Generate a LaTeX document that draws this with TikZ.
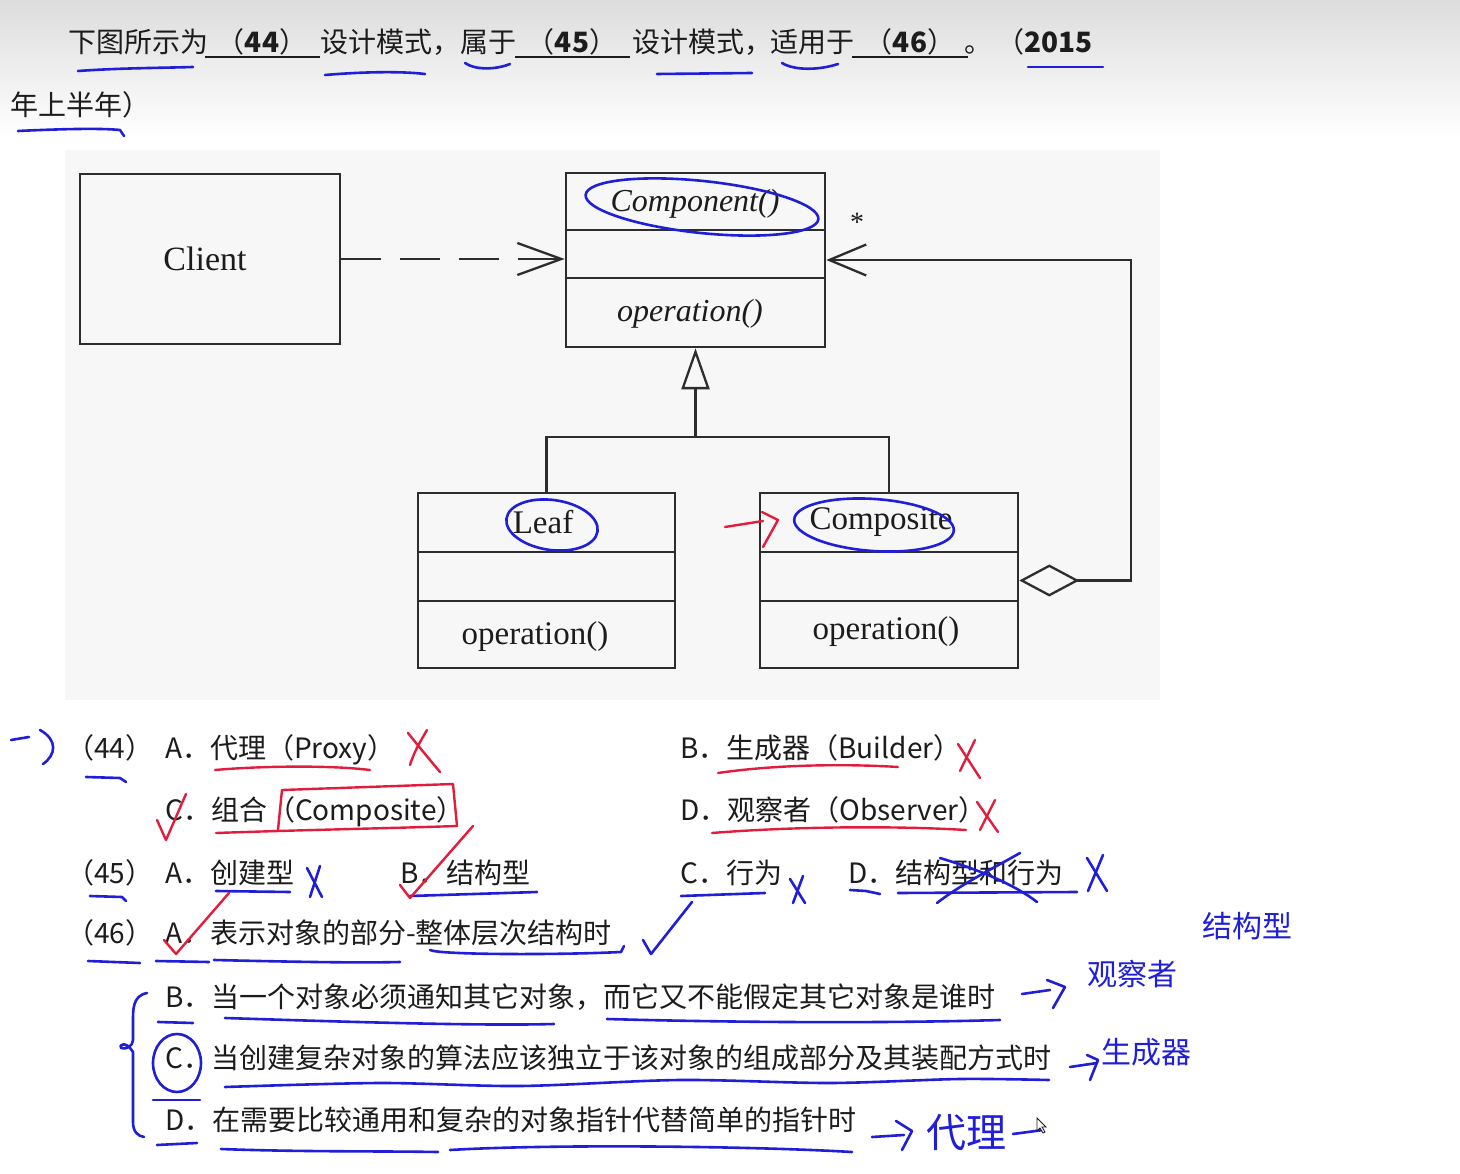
\documentclass[tikz,border=0pt]{standalone}
\usepackage{fontspec}
\setmainfont{Noto Sans CJK SC}
\newfontfamily\diagfont{Liberation Serif}
\usetikzlibrary{arrows.meta,calc}
\definecolor{penblue}{RGB}{32,30,215}
\definecolor{penred}{RGB}{225,28,60}
\definecolor{ink}{RGB}{28,28,28}
\definecolor{boxline}{RGB}{45,45,45}
\definecolor{diagbg}{RGB}{247,247,247}
\begin{document}
\begin{tikzpicture}[x=1pt,y=-1pt,
  txt/.style={anchor=base west, text=ink, font=\fontsize{28}{30}\selectfont, inner sep=0pt},
  hw/.style={text=penblue, font=\fontsize{30}{32}\selectfont, inner sep=0pt},
  cls/.style={draw=boxline, line width=2.6pt, inner sep=0pt},
  divline/.style={draw=boxline, line width=2.4pt},
  conn/.style={draw=boxline, line width=2.3pt},
  dtxt/.style={text=ink, inner sep=0pt, font=\diagfont\fontsize{33}{35}\selectfont},
  ditxt/.style={text=ink, inner sep=0pt, font=\diagfont\itshape\fontsize{32}{34}\selectfont},
  bluestroke/.style={draw=penblue, line width=2.6pt, line cap=round, line join=round},
  redstroke/.style={draw=penred, line width=2.4pt, line cap=round, line join=round},
  blank/.style={draw=ink, line width=2pt}]
\useasboundingbox (0,0) rectangle (1460,1174);
\fill[white] (0,0) rectangle (1460,1174);
\shade[top color=gray!27, bottom color=white] (0,0) rectangle (1460,138);
\fill[diagbg] (65,150) rectangle (1160,700);

% ---------- header ----------
\node[txt] (h1) at (68,53) {下图所示为};
\node[txt, anchor=base] (h2) at (262,53) {（\textbf{44}）};
\node[txt] (h3) at (320,53) {设计模式，};
\node[txt] (h4) at (460,53) {属于};
\node[txt, anchor=base] (h5) at (572,53) {（\textbf{45}）};
\node[txt] (h6) at (632,53) {设计模式，};
\node[txt] (h7) at (770,53) {适用于};
\node[txt, anchor=base] (h8) at (910,53) {（\textbf{46}）};
\node[txt] (h9) at (964,53) {。};
\node[txt] (h10) at (996,53) {（\textbf{2015}};
\node[txt] (h11) at (10,116) {年上半年）};
\draw[blank] (205,57) -- (320,57);
\draw[blank] (515,57) -- (630,57);
\draw[blank] (852,57) -- (968,57);

% ---------- UML diagram ----------
\node[cls, minimum width=260, minimum height=170] (client) at (210,259) {};
\node[dtxt, font=\diagfont\fontsize{34}{36}\selectfont] (clientlbl) at (205,259) {Client};

\node[cls, minimum width=259, minimum height=174] (comp) at (695.5,260) {};
\draw[divline] (comp.west |- 0,230) -- (comp.east |- 0,230);
\draw[divline] (comp.west |- 0,278) -- (comp.east |- 0,278);
\node[ditxt] (compname) at (695,204) {Component()};
\node[ditxt] (compop) at (690,314) {operation()};

\node[cls, minimum width=257, minimum height=175] (leaf) at (546.5,580.5) {};
\draw[divline] (leaf.west |- 0,552) -- (leaf.east |- 0,552);
\draw[divline] (leaf.west |- 0,601) -- (leaf.east |- 0,601);
\node[dtxt] (leafname) at (543,522) {Leaf};
\node[dtxt] (leafop) at (535,637) {operation()};

\node[cls, minimum width=258, minimum height=175] (compo) at (889,580.5) {};
\draw[divline] (compo.west |- 0,552) -- (compo.east |- 0,552);
\draw[divline] (compo.west |- 0,601) -- (compo.east |- 0,601);
\node[dtxt] (componame) at (881,522) {Composite};
\node[dtxt] (compoop) at (886,632) {operation()};

\node[text=ink, inner sep=0pt, font=\diagfont\fontsize{28}{30}\selectfont] (star) at (857,222) {*};

\draw[conn, dash pattern=on 40pt off 19pt, -{Straight Barb[length=44pt,width=32pt]}]
  (client.east) -- (client.east -| comp.west);
\coordinate (junc) at (695.5,437);
\draw[conn, -{Triangle[open,length=41pt,width=28pt]}] (junc) -- (comp.south);
\draw[conn] (leaf.north) |- (junc) -| (compo.north);
\coordinate (rc) at (1131,260);
\draw[conn, {Diamond[open,length=60pt,width=32pt]}-{Straight Barb[length=37pt,width=31pt]}]
  (compo.east) -| (rc) -- (comp.east);

% annotations on diagram
\draw[bluestroke, rotate around={-6:(702,207)}] (702,207) ellipse [x radius=117, y radius=26];
\draw[bluestroke, rotate around={-8:(552,525)}] (552,525) ellipse [x radius=46, y radius=25];
\draw[bluestroke, rotate around={-4:(874,525)}] (874,525) ellipse [x radius=80, y radius=26];
\draw[redstroke] (725,527) -- (763,521);
\draw[redstroke] (762,512) -- (778,520) -- (763,547);

% ---------- options ----------
\node[txt] (q44) at (66,758) {（44）};
\node[txt] (q44a) at (165,758) {A．代理（Proxy）};
\node[txt] (q44b) at (680,758) {B．生成器（Builder）};
\node[txt] (q44c) at (165,820) {C．组合（Composite）};
\node[txt] (q44d) at (680,820) {D．观察者（Observer）};
\node[txt] (q45) at (66,883) {（45）};
\node[txt] (q45a) at (165,883) {A．创建型};
\node[txt] (q45b) at (400,883) {B．结构型};
\node[txt] (q45c) at (680,883) {C．行为};
\node[txt] (q45d) at (848,883) {D．结构型和行为};
\node[txt] (q46) at (66,943) {（46）};
\node[txt] (q46a) at (165,943) {A．表示对象的部分-整体层次结构时};
\node[txt] (q46b) at (165,1007) {B．当一个对象必须通知其它对象，而它又不能假定其它对象是谁时};
\node[txt] (q46c) at (165,1068) {C．当创建复杂对象的算法应该独立于该对象的组成部分及其装配方式时};
\node[txt] (q46d) at (165,1130) {D．在需要比较通用和复杂的对象指针代替简单的指针时};

% ---------- blue pen ----------
% header underlines
\draw[bluestroke] (78,71) .. controls (120,68) and (160,68) .. (193,67);
\draw[bluestroke] (325,75) .. controls (360,72) and (400,71) .. (425,74);
\draw[bluestroke] (465,63) .. controls (475,70) and (495,70) .. (510,64);
\draw[bluestroke] (657,74) -- (752,73);
\draw[bluestroke] (782,63) .. controls (795,71) and (820,70) .. (838,64);
\draw[bluestroke] (1028,67) -- (1103,67);
\draw[bluestroke] (18,131) .. controls (60,129) and (100,128) .. (120,130) -- (124,136);
% row 44
\draw[bluestroke] (11,740) -- (29,737);
\draw[bluestroke] (40,730) .. controls (58,740) and (56,755) .. (43,764);
\draw[bluestroke] (86,777) -- (120,778) -- (126,782);
% row 45
\draw[bluestroke] (90,896) -- (122,897) -- (126,901);
\draw[bluestroke] (216,891) -- (290,892);
\draw[bluestroke] (307,868) -- (322,897);
\draw[bluestroke] (320,866) -- (310,897);
\draw[bluestroke] (410,896) -- (537,892);
\draw[bluestroke] (681,896) -- (765,893);
\draw[bluestroke] (790,879) -- (805,903);
\draw[bluestroke] (803,876) -- (793,903);
\draw[bluestroke] (850,890) -- (866,891) -- (880,894);
\draw[bluestroke] (898,893) -- (1077,892);
\draw[bluestroke] (940,858) .. controls (980,870) and (1015,885) .. (1037,902);
\draw[bluestroke] (1020,853) .. controls (990,870) and (960,885) .. (937,903);
\draw[bluestroke] (1087,858) -- (1107,891);
\draw[bluestroke] (1103,855) -- (1088,891);
% row 46
\draw[bluestroke] (88,961) -- (140,963);
\draw[bluestroke] (156,961) -- (209,962);
\draw[bluestroke] (214,960) .. controls (300,962) and (360,963) .. (400,962);
\draw[bluestroke] (430,950) .. controls (440,955) and (560,955) .. (621,952) -- (624,946);
\draw[bluestroke] (643,940) -- (651,954) -- (692,902);
\draw[bluestroke] (158,1022) -- (193,1023);
\draw[bluestroke] (225,1018) .. controls (350,1022) and (480,1026) .. (554,1024);
\draw[bluestroke] (607,1019) .. controls (750,1023) and (900,1023) .. (1000,1020);
\draw[bluestroke] (177,1063) ellipse [x radius=24, y radius=29];
\draw[bluestroke] (153,1100) -- (200,1100);
\draw[bluestroke] plot[smooth] coordinates {(225,1087) (380,1083) (520,1086) (680,1080) (830,1083) (960,1079) (1049,1080)};
\draw[bluestroke] (157,1145) -- (197,1143);
\draw[bluestroke] (221,1149) .. controls (300,1152) and (380,1151) .. (438,1152);
\draw[bluestroke] (450,1150) .. controls (550,1144) and (750,1146) .. (852,1152);
% brace
\draw[bluestroke] (147,993) .. controls (132,996) and (133,1010) .. (133,1025)
  -- (133,1040) .. controls (133,1046) and (126,1050) .. (121,1048)
  .. controls (118,1045) and (126,1040) .. (133,1052)
  -- (133,1122) .. controls (133,1132) and (138,1136) .. (144,1137);
% arrows and handwritten answers
\draw[bluestroke] (1022,994) -- (1050,990);
\draw[bluestroke] (1047,980) -- (1065,987) -- (1053,1008);
\draw[bluestroke] (1070,1067) -- (1097,1063);
\draw[bluestroke] (1087,1055) -- (1098,1060) -- (1090,1080);
\draw[bluestroke] (872,1137) -- (904,1135);
\draw[bluestroke] (896,1121) -- (912,1131) -- (902,1150);
\draw[bluestroke] (1013,1134) -- (1043,1130);
\node[hw] (hwjg) at (1247,926) {结构型};
\node[hw] (hwgc) at (1132,974) {观察者};
\node[hw] (hwsc) at (1146,1052) {生成器};
\node[hw, font=\fontsize{40}{42}\selectfont] (hwdl) at (966,1133) {代理};
\draw[draw=ink, fill=white, line width=0.8pt] (1037,1118) -- (1037,1131) -- (1040,1128) -- (1043,1133) -- (1045,1132) -- (1042,1127) -- (1046,1127) -- cycle;

% ---------- red pen ----------
\draw[redstroke] (215,770) .. controls (260,766) and (330,765) .. (370,770);
\draw[redstroke] (408,733) .. controls (420,748) and (430,760) .. (440,772);
\draw[redstroke] (427,730) .. controls (420,742) and (414,752) .. (410,765);
\draw[redstroke] (718,773) .. controls (780,764) and (850,764) .. (898,767);
\draw[redstroke] (958,744) -- (980,778);
\draw[redstroke] (975,740) -- (960,771);
\draw[redstroke] (157,820) -- (166,840) -- (186,794);
\draw[redstroke] (278,830) -- (282,790) -- (453,784) -- (457,826);
\draw[redstroke] (216,833) .. controls (300,830) and (400,828) .. (457,826);
\draw[redstroke] (712,833) .. controls (800,826) and (900,826) .. (966,830);
\draw[redstroke] (977,802) -- (998,832);
\draw[redstroke] (995,800) -- (980,830);
\draw[redstroke] (400,885) -- (410,898) -- (473,826);
\draw[redstroke] (164,940) -- (176,954) -- (229,893);
\end{tikzpicture}
\end{document}
